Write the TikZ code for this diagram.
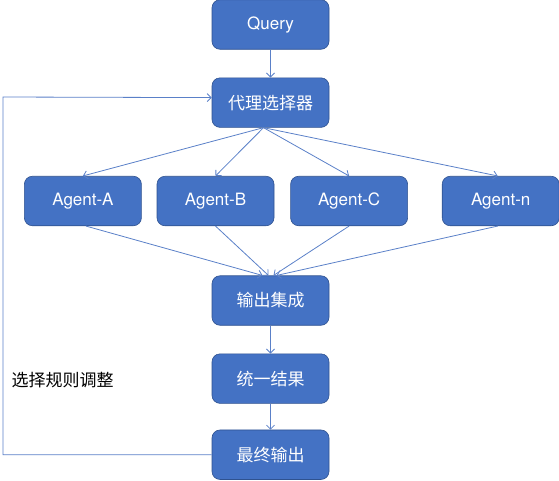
\documentclass[tikz,border=0pt]{standalone}
\usepackage{fontspec}
\setmainfont{TeX Gyre Heros}
\newfontfamily\cjk{Noto Sans CJK SC}
\usepackage{xcolor}
\usetikzlibrary{positioning,arrows.meta}
\definecolor{boxblue}{RGB}{68,114,196}
\definecolor{boxedge}{RGB}{47,82,143}
\definecolor{linkblue}{RGB}{90,128,200}

\begin{document}
\begin{tikzpicture}[x=1pt,y=1pt,node distance=28pt,>={Straight Barb[length=4pt,width=8pt]},
  box/.style={draw=boxedge,fill=boxblue,rounded corners=8pt,minimum width=117pt,minimum height=49.5pt,
    text=white,font=\fontsize{17}{20}\selectfont,line width=0.6pt},
  link/.style={->,draw=linkblue,line width=0.8pt}]
  \useasboundingbox (0,0) rectangle (559,-480);
  % main chain, top
  \node[box] (query) at (270.5,-24.5) {Query};
  \node[box,below=of query] (sel) {\cjk 代理选择器};
  % agents row
  \node[box] (agb) at (215.5,-201) {Agent-B};
  \node[box,left=15pt of agb] (aga) {Agent-A};
  \node[box,right=16pt of agb] (agc) {Agent-C};
  \node[box,right=34pt of agc] (agn) {Agent-n};
  % main chain, bottom
  \node[box] (merge) at (270.5,-300.5) {\cjk 输出集成};
  \node[box,below=of merge] (unify) {\cjk 统一结果};
  \node[box,below=26pt of unify] (final) {\cjk 最终输出};
  \node[font=\fontsize{17}{20}\selectfont\cjk,anchor=west] (rule) at (8,-380) {选择规则调整};

  \draw[link] (query) -- (sel);
  \draw[link] ([xshift=-7pt]sel.south) -- (aga.north);
  \draw[link] ([xshift=-7pt]sel.south) -- (agb.north);
  \draw[link] ([xshift=-7pt]sel.south) -- (agc.north);
  \draw[link] ([xshift=-7pt]sel.south) -- ([xshift=-3pt]agn.north);
  \draw[link] ([xshift=3pt]aga.south) -- ([xshift=-8pt]merge.north);
  \draw[link] (agb.south) -- ([xshift=-2pt]merge.north);
  \draw[link] (agc.south) -- ([xshift=3pt]merge.north);
  \draw[link] ([xshift=-3pt]agn.south) -- ([xshift=6pt]merge.north);
  \draw[link] (merge) -- (unify);
  \draw[link] (unify) -- (final);
  % feedback loop
  \draw[link] (final.west) -| (3,-97) -- ([yshift=5pt]sel.west);
\end{tikzpicture}
\end{document}
